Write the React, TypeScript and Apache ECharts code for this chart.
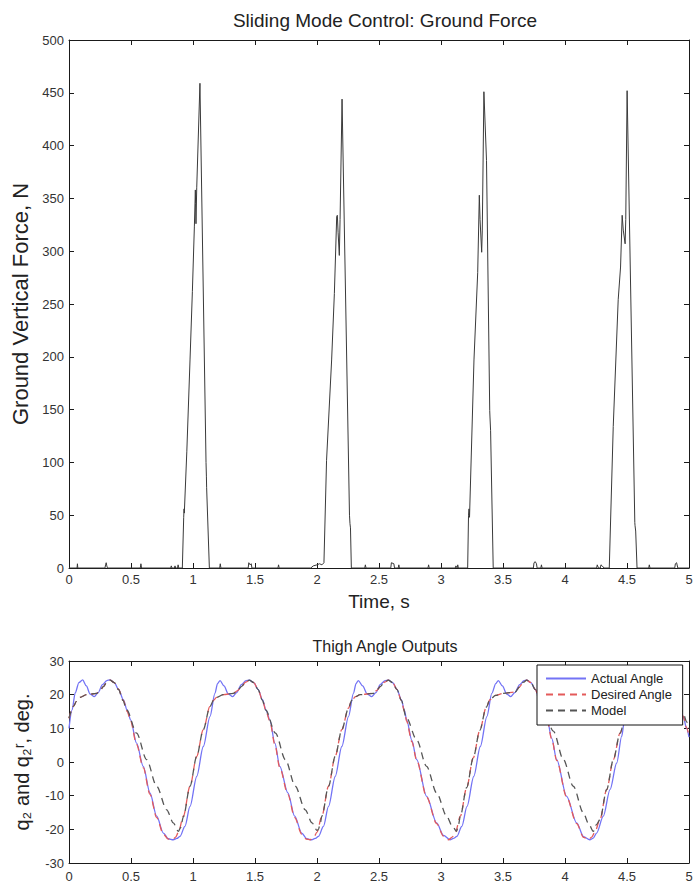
import React, { useEffect, useRef } from "react";
import * as echarts from "echarts";

// ---------- Data ----------
const timeTicks = [0, 0.5, 1, 1.5, 2, 2.5, 3, 3.5, 4, 4.5, 5];

// Ground vertical force [time s, force N]
const groundForce: number[][] = [
  [0, 0], [0.065, 0], [0.068, 4], [0.071, 0],
  [0.29, 0], [0.295, 3], [0.3, 5], [0.305, 2], [0.31, 0],
  [0.575, 0], [0.58, 4], [0.585, 0],
  [0.82, 0], [0.825, 2], [0.83, 0], [0.85, 0], [0.855, 2], [0.86, 0], [0.875, 0], [0.88, 3], [0.885, 0],
  [0.914, 0], [0.925, 48], [0.928, 56], [0.93, 52], [0.95, 110], [0.976, 197], [0.995, 262], [1.011, 323],
  [1.019, 358], [1.021, 345], [1.024, 326], [1.03, 360], [1.056, 459], [1.105, 100], [1.108, 87], [1.11, 76], [1.132, 0],
  [1.215, 0], [1.22, 4], [1.225, 0],
  [1.445, 0], [1.45, 5], [1.46, 3], [1.47, 4], [1.475, 0],
  [1.685, 0], [1.69, 3], [1.695, 0],
  [1.95, 0], [1.97, 2], [2.0, 3], [2.02, 4], [2.04, 3], [2.056, 5],
  [2.077, 102], [2.118, 197], [2.14, 260], [2.159, 333], [2.164, 334], [2.17, 318], [2.18, 296], [2.186, 330],
  [2.202, 444], [2.262, 50], [2.266, 42], [2.27, 38], [2.277, 0],
  [2.385, 0], [2.39, 3], [2.395, 0],
  [2.595, 0], [2.6, 5], [2.62, 4], [2.625, 0],
  [2.655, 0], [2.66, 3], [2.665, 0],
  [2.895, 0], [2.9, 3], [2.905, 0],
  [3.115, 0], [3.12, 2], [3.13, 0], [3.135, 3], [3.14, 0],
  [3.215, 0], [3.222, 50], [3.226, 56], [3.23, 48], [3.266, 197], [3.296, 280], [3.309, 353], [3.315, 330],
  [3.328, 299], [3.333, 320], [3.346, 451], [3.367, 386], [3.393, 149], [3.395, 143], [3.4, 130], [3.421, 0],
  [3.745, 0], [3.75, 5], [3.76, 6], [3.77, 4], [3.775, 0],
  [3.805, 0], [3.81, 3], [3.815, 0],
  [4.255, 0], [4.26, 3], [4.27, 0], [4.285, 0], [4.29, 3], [4.3, 2], [4.315, 0],
  [4.357, 0], [4.389, 134], [4.429, 254], [4.448, 285], [4.461, 334], [4.47, 320], [4.485, 307], [4.49, 330],
  [4.501, 452], [4.563, 43], [4.565, 40], [4.57, 35], [4.581, 0],
  [4.675, 0], [4.68, 3], [4.685, 0],
  [4.885, 0], [4.89, 4], [4.9, 5], [4.91, 0],
  [5, 0],
];

// Thigh angle [time s, deg]
const actualAngle: number[][] = [
  [0, 10], [0.025, 15.5], [0.05, 20.5], [0.08, 23.6], [0.11, 24.4], [0.14, 22.6], [0.17, 20.2], [0.204, 19.4],
  [0.235, 20.6], [0.27, 23], [0.305, 24.2], [0.331, 24.4], [0.365, 23.6], [0.4, 21.6], [0.438, 18.5], [0.47, 15.3],
  [0.497, 12.5], [0.545, 5.6], [0.599, -1.3], [0.653, -9.2], [0.707, -16.1], [0.761, -21.1], [0.801, -22.8], [0.841, -23.1],
  [0.87, -22.7], [0.895, -22.1], [0.935, -19.1], [0.976, -13.2], [1.03, -4.3], [1.083, 4.6], [1.137, 13.5], [1.177, 20.4],
  [1.198, 23.3], [1.218, 24.2], [1.25, 22.6], [1.285, 20.2], [1.32, 19.4], [1.352, 20.6], [1.39, 23], [1.428, 24.2],
  [1.454, 24.3], [1.49, 23.6], [1.525, 21.6], [1.56, 18.5], [1.59, 15.3], [1.62, 12.5], [1.66, 5.6], [1.7, -1.3],
  [1.765, -9.2], [1.82, -16.1], [1.877, -21.1], [1.917, -22.8], [1.957, -23.1],
  [1.985, -22.7], [2.012, -22.1], [2.052, -19.1], [2.093, -13.2], [2.147, -4.3], [2.2, 4.6], [2.254, 13.5], [2.294, 20.4],
  [2.315, 23.3], [2.333, 24.2], [2.368, 22.6], [2.405, 20.2], [2.441, 19.4], [2.475, 20.6], [2.51, 23], [2.55, 24.2],
  [2.575, 24.3], [2.61, 23.6], [2.645, 21.6], [2.68, 18.5], [2.705, 15.3], [2.723, 12.5], [2.765, 6.4], [2.804, 0.7],
  [2.884, -10.2], [2.965, -18.1], [3.02, -21.8], [3.073, -23.1],
  [3.1, -22.7], [3.128, -22.1], [3.168, -19.1], [3.21, -13.2], [3.264, -4.3], [3.317, 4.6], [3.37, 13.5], [3.41, 20.4],
  [3.442, 23.3], [3.462, 24.2], [3.495, 22.6], [3.53, 20.2], [3.562, 19.4], [3.595, 20.6], [3.635, 23], [3.67, 24.2],
  [3.691, 24.3], [3.725, 23.6], [3.76, 21.6], [3.795, 18.5], [3.825, 15.5], [3.852, 13.5], [3.893, 7], [3.933, 0.7],
  [4.013, -10.2], [4.094, -18.1], [4.15, -22.2], [4.2, -23.1],
  [4.228, -22.6], [4.255, -21.1], [4.309, -16.1], [4.363, -8.2], [4.417, -0.3], [4.457, 7.6], [4.476, 11.5], [4.52, 18.5],
  [4.555, 23], [4.578, 24.2], [4.61, 22.6], [4.645, 20.2], [4.68, 19.4], [4.712, 20.6], [4.75, 23], [4.788, 24.2],
  [4.81, 24.3], [4.845, 23.6], [4.88, 21.6], [4.915, 18.5], [4.954, 13.5], [4.98, 10], [5, 7.4],
];

const desiredAngle: number[][] = [
  [0, 13], [0.035, 16.5], [0.06, 18], [0.089, 19.2], [0.142, 20], [0.223, 20.4], [0.25, 21.2], [0.277, 22.4],
  [0.305, 23.7], [0.331, 24.3], [0.365, 23.6], [0.4, 21.6], [0.438, 18.3], [0.47, 15], [0.497, 12.1], [0.545, 5.2],
  [0.599, -1.7], [0.653, -9.6], [0.707, -16.5], [0.761, -21.4], [0.8, -22.9], [0.836, -23.1], [0.86, -22.3], [0.882, -20.9],
  [0.922, -16.1], [0.976, -7.2], [1.03, 1.7], [1.083, 9.6], [1.137, 16.5], [1.165, 18.3], [1.19, 19.2], [1.245, 20],
  [1.325, 20.4], [1.36, 21.2], [1.39, 22.4], [1.425, 23.7], [1.454, 24.3], [1.49, 23.6], [1.525, 21.6], [1.56, 18.3],
  [1.59, 15], [1.62, 12.1], [1.66, 5.2], [1.7, -1.7], [1.765, -9.6], [1.82, -16.5], [1.877, -21.4], [1.915, -22.9],
  [1.944, -23.1], [1.975, -22.3], [1.999, -20.9], [2.039, -16.1], [2.093, -7.2], [2.147, 1.7], [2.2, 9.6], [2.254, 16],
  [2.28, 18.3], [2.31, 19.4], [2.347, 20], [2.454, 20.4], [2.48, 21.2], [2.51, 22.4], [2.545, 23.7], [2.575, 24.3],
  [2.61, 23.6], [2.645, 21.6], [2.68, 18.3], [2.705, 15], [2.723, 12.1], [2.765, 6], [2.804, 0.5], [2.884, -10.4],
  [2.965, -18.3], [3.02, -22], [3.06, -23.1], [3.09, -22.3], [3.116, -20.9], [3.156, -16.1], [3.207, -7.6], [3.26, 1.2],
  [3.313, 9.4], [3.365, 16.3], [3.395, 18.5], [3.44, 19.8], [3.503, 20.4], [3.6, 20.8], [3.63, 22.2], [3.665, 23.7],
  [3.691, 24.3], [3.725, 23.6], [3.76, 21.6], [3.795, 18.3], [3.825, 15.2], [3.852, 13.3], [3.893, 6.8], [3.933, 0.5],
  [4.013, -10.4], [4.094, -18.3], [4.15, -22.4], [4.19, -23.1], [4.215, -22.3], [4.24, -20.9], [4.282, -17.1], [4.336, -8.2],
  [4.39, 0.7], [4.444, 8.6], [4.5, 16], [4.53, 18.3], [4.56, 19.4], [4.6, 20], [4.68, 20.4], [4.715, 21.2],
  [4.745, 22.4], [4.78, 23.7], [4.81, 24.3], [4.845, 23.6], [4.88, 21.6], [4.915, 18.3], [4.954, 13.5], [4.98, 10.2],
  [5, 7.8],
];

const modelAngle: number[][] = [
  [0, 13], [0.035, 16.5], [0.06, 18], [0.089, 19.2], [0.142, 20], [0.223, 20.4], [0.25, 21.2], [0.277, 22.4],
  [0.305, 23.7], [0.331, 24.3], [0.365, 23.6], [0.4, 21.5], [0.435, 18.3], [0.465, 15.5], [0.545, 8.6], [0.626, 0.7],
  [0.707, -7.2], [0.788, -14.2], [0.841, -18.1], [0.882, -20.6], [0.9, -19.5], [0.922, -16.3], [0.976, -7.2], [1.03, 1.7],
  [1.083, 9.6], [1.137, 16.5], [1.165, 18.3], [1.19, 19.2], [1.245, 20], [1.325, 20.4], [1.36, 21.2], [1.39, 22.4],
  [1.425, 23.7], [1.454, 24.3], [1.49, 23.6], [1.525, 21.5], [1.56, 18.3], [1.585, 15.5], [1.665, 8.6], [1.745, 0.7],
  [1.825, -7.2], [1.905, -14.2], [1.96, -18.1], [2.0, -20.3], [2.011, -20.1], [2.025, -18.5], [2.039, -16.1], [2.093, -7.2],
  [2.147, 1.7], [2.2, 9.6], [2.254, 16], [2.28, 18.3], [2.31, 19.4], [2.347, 20], [2.454, 20.4], [2.48, 21.2],
  [2.51, 22.4], [2.545, 23.7], [2.575, 24.3], [2.61, 23.6], [2.645, 21.5], [2.68, 18.3], [2.72, 13.2], [2.804, 6.6],
  [2.884, -1.3], [2.965, -9.2], [3.046, -16.1], [3.09, -19], [3.126, -20.6], [3.14, -18.8], [3.156, -16.1], [3.207, -7.6],
  [3.26, 1.2], [3.313, 9.4], [3.365, 16.3], [3.395, 18.5], [3.44, 19.8], [3.503, 20.4], [3.6, 20.8], [3.63, 22.2],
  [3.665, 23.7], [3.691, 24.3], [3.725, 23.6], [3.76, 21.5], [3.795, 18.3], [3.825, 15.5], [3.906, 9.2], [3.987, 0.7],
  [4.067, -7.2], [4.148, -15.1], [4.19, -18.3], [4.228, -20.6], [4.255, -18.5], [4.282, -17.1], [4.336, -8.2], [4.39, 0.7],
  [4.444, 8.6], [4.5, 16], [4.53, 18.3], [4.56, 19.4], [4.6, 20], [4.68, 20.4], [4.715, 21.2], [4.745, 22.4],
  [4.78, 23.7], [4.81, 24.3], [4.845, 23.6], [4.88, 21.5], [4.915, 18.3], [4.954, 14.5], [4.98, 12], [5, 10],
];

const legendNames = ["Actual Angle", "Desired Angle", "Model"];

// ---------- Component ----------
const FONT = "'Liberation Sans', Arial, Helvetica, sans-serif";

export default function App() {
  const ref = useRef<HTMLDivElement>(null);

  useEffect(() => {
    if (!ref.current) return;
    const chart = echarts.init(ref.current, undefined, { renderer: "svg" });

    const axisLine = () => ({ show: true, onZero: false, lineStyle: { color: "#1a1a1a", width: 1 } });
    const tick = () => ({ show: true, inside: true, length: 5, lineStyle: { color: "#1a1a1a", width: 1 } });
    const label = { color: "#333", fontSize: 13, fontFamily: FONT };

    const xMain = (gridIndex: number, extra: any = {}) => ({
      type: "value",
      gridIndex,
      position: "bottom",
      min: timeTicks[0],
      max: timeTicks[timeTicks.length - 1],
      interval: 0.5,
      axisLine: axisLine(),
      axisTick: tick(),
      axisLabel: { ...label, margin: 5 },
      splitLine: { show: false },
      ...extra,
    });
    const xMirror = (gridIndex: number) => ({
      type: "value",
      gridIndex,
      position: "top",
      min: 0,
      max: 5,
      interval: 0.5,
      axisLine: axisLine(),
      axisTick: tick(),
      axisLabel: { show: false },
      splitLine: { show: false },
    });
    const yAxisDef = (gridIndex: number, min: number, max: number, step: number, right: boolean, extra: any = {}) => ({
      type: "value",
      gridIndex,
      position: right ? "right" : "left",
      min,
      max,
      interval: step,
      axisLine: axisLine(),
      axisTick: tick(),
      axisLabel: right ? { show: false } : { ...label, margin: 5 },
      splitLine: { show: false },
      ...extra,
    });

    const option: any = {
      animation: false,
      backgroundColor: "#fff",
      title: [
        {
          text: "Sliding Mode Control: Ground Force",
          left: 380,
          top: 6,
          textAlign: "center",
          textStyle: { fontSize: 19, fontWeight: "normal", color: "#222", fontFamily: FONT },
        },
        {
          text: "Thigh Angle Outputs",
          left: 380,
          top: 633,
          textAlign: "center",
          textStyle: { fontSize: 16, fontWeight: "normal", color: "#222", fontFamily: FONT },
        },
      ],
      grid: [
        { left: 69, top: 40, width: 620, height: 528 },
        { left: 69, top: 661, width: 620, height: 202 },
      ],
      xAxis: [
        xMain(0, {
          name: "Time, s",
          nameLocation: "middle",
          nameGap: 24,
          nameTextStyle: { fontSize: 19, color: "#222", fontFamily: FONT },
        }),
        xMirror(0),
        xMain(1, { axisLabel: { ...label, margin: 7 } }),
        xMirror(1),
      ],
      yAxis: [
        yAxisDef(0, 0, 500, 50, false, {
          name: "Ground Vertical Force, N",
          nameLocation: "middle",
          nameGap: 33,
          nameTextStyle: { fontSize: 22, color: "#222", fontFamily: FONT },
        }),
        yAxisDef(0, 0, 500, 50, true),
        yAxisDef(1, -30, 30, 10, false, {
          name: "q\u2082 and q\u2082\u02b3, deg.",
          nameLocation: "middle",
          nameGap: 37,
          nameTextStyle: { fontSize: 20, color: "#222", fontFamily: FONT },
        }),
        yAxisDef(1, -30, 30, 10, true),
      ],
      legend: {
        data: legendNames,
        orient: "vertical",
        left: 537,
        top: 665,
        z: 20,
        itemWidth: 40,
        itemHeight: 14,
        itemGap: 3,
        padding: [7, 10, 8, 8],
        backgroundColor: "#fff",
        borderColor: "#111",
        borderWidth: 1,
        borderRadius: 0,
        itemStyle: { opacity: 0 },
        textStyle: { fontSize: 13, color: "#222", fontFamily: FONT },
      },
      series: [
        {
          name: "Ground Force",
          type: "line",
          xAxisIndex: 0,
          yAxisIndex: 0,
          data: groundForce,
          showSymbol: false,
          symbol: "none",
          lineStyle: { color: "#3a3a3a", width: 1 },
        },
        {
          name: legendNames[0],
          type: "line",
          xAxisIndex: 2,
          yAxisIndex: 2,
          data: actualAngle,
          symbol: "none",
          smooth: 0.3,
          smoothMonotone: "x",
          itemStyle: { color: "#7373f5" },
          lineStyle: { color: "#7373f5", width: 1.3, type: "solid" },
          z: 1,
        },
        {
          name: legendNames[1],
          type: "line",
          xAxisIndex: 2,
          yAxisIndex: 2,
          data: desiredAngle,
          symbol: "none",
          smooth: 0.3,
          smoothMonotone: "x",
          itemStyle: { color: "#e45a5a" },
          lineStyle: { color: "#e45a5a", width: 1.3, type: [7, 5] },
          z: 2,
        },
        {
          name: legendNames[2],
          type: "line",
          xAxisIndex: 2,
          yAxisIndex: 2,
          data: modelAngle,
          symbol: "none",
          smooth: 0.3,
          smoothMonotone: "x",
          itemStyle: { color: "#555" },
          lineStyle: { color: "#555", width: 1.3, type: [7, 5] },
          z: 3,
        },
      ],
    };

    chart.setOption(option);
    return () => chart.dispose();
  }, []);

  return (
    <div
      ref={ref}
      style={{ position: "absolute", left: 0, top: 0, width: 697, height: 884, background: "#fff" }}
    />
  );
}
